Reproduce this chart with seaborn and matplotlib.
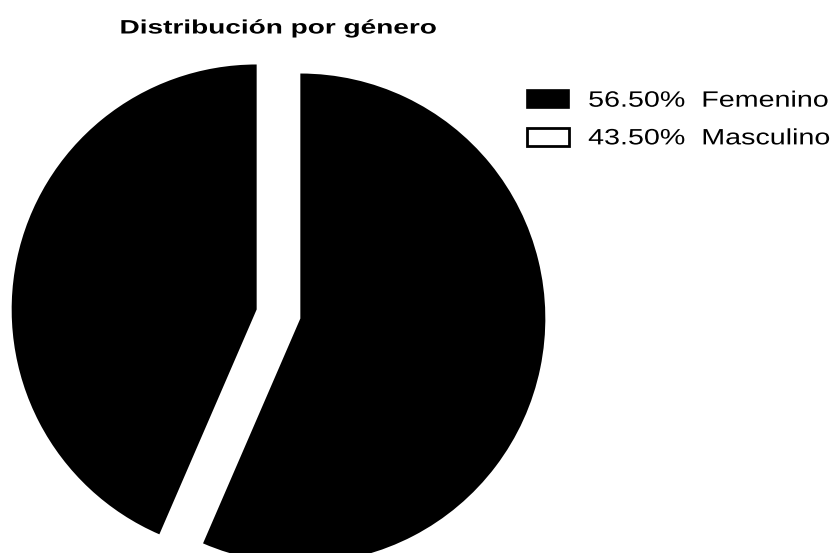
import matplotlib
matplotlib.use("Agg")
import matplotlib.pyplot as plt
from matplotlib.patches import Patch
from matplotlib.patheffects import AbstractPathEffect
from matplotlib.transforms import Affine2D
import seaborn as sns

# Gender split of the sample
categories = ["Femenino", "Masculino"]
shares = [56.50, 43.50]
title = "Distribución por género"


class WideText(AbstractPathEffect):
    """Draw text glyphs widened horizontally (the font face is broad)."""

    def __init__(self, sx, anchor="left"):
        super().__init__()
        self.sx = sx
        self.anchor = anchor

    def draw_path(self, renderer, gc, tpath, affine, rgbFace=None):
        if self.anchor == "center":
            ext = tpath.get_extents(affine)
            px = 0.5 * (ext.x0 + ext.x1)
        else:
            px = affine.transform((0, 0))[0]
        stretch = Affine2D().translate(-px, 0).scale(self.sx, 1).translate(px, 0)
        renderer.draw_path(gc, tpath, affine + stretch, rgbFace)


sns.set_theme(style="white")
plt.rcParams["font.family"] = ["Liberation Sans", "DejaVu Sans"]

W, H = 832, 553
fig = plt.figure(figsize=(W / 100, H / 100), dpi=100)
ax = fig.add_axes([0, 0, 1, 1])

# pie laid out in pixel-like data units (y measured upward)
cx, cy, r = 278.5, H - 314, 245
gap = 22.3  # radial offset of each wedge (absolute units)
ax.pie(shares, colors=["black", "black"], startangle=90, counterclock=False,
       explode=[gap, gap], center=(cx, cy), radius=r,
       wedgeprops=dict(linewidth=0))
ax.set_xlim(0, W)
ax.set_ylim(0, H)
ax.set_aspect("equal")
ax.axis("off")

ax.text(cx, H - 29, title, ha="center", va="center", fontsize=14,
        fontweight="bold", color="black",
        path_effects=[WideText(1.44, "center")])

handles = [Patch(facecolor="black", edgecolor="black", linewidth=1.2),
           Patch(facecolor="white", edgecolor="black", linewidth=2.0)]
labels = [f"{v:.2f}%  {c}" for v, c in zip(shares, categories)]
leg = fig.legend(handles, labels, loc="upper left",
                 bbox_to_anchor=(527 / W, 1 - 90 / H), frameon=False,
                 fontsize=16, labelcolor="black", handlelength=1.9,
                 handleheight=0.87, handletextpad=0.85, labelspacing=0.72,
                 borderpad=0, borderaxespad=0)
for t in leg.get_texts():
    t.set_path_effects([WideText(1.29)])

fig.savefig("out.png", dpi=100)
